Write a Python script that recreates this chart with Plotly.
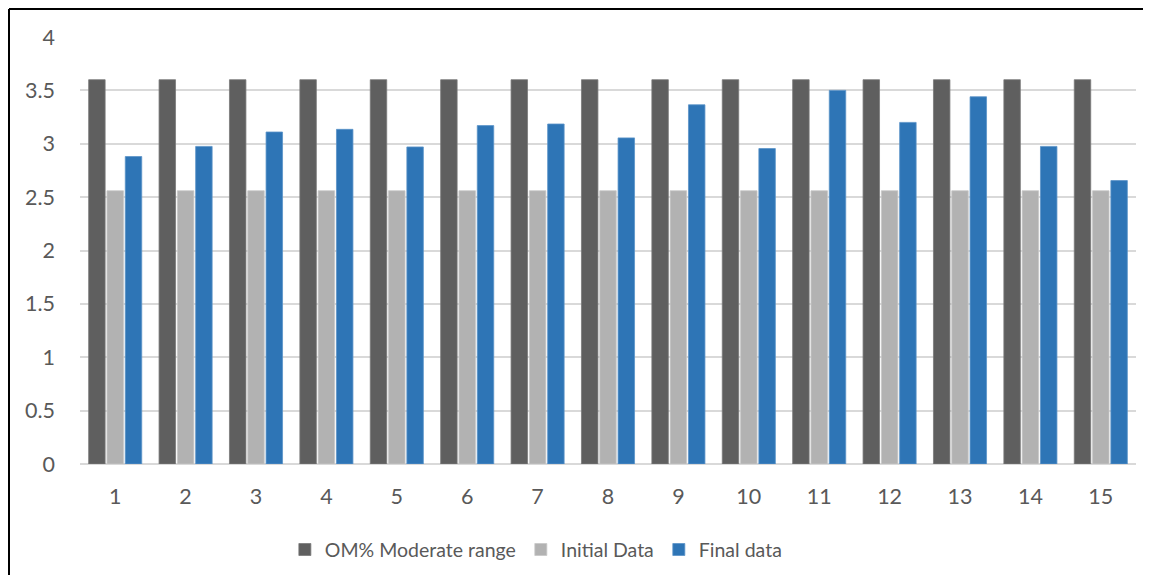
import plotly.graph_objects as go

categories = [str(i) for i in range(1, 16)]
om_moderate = [3.6] * 15
initial_data = [2.56] * 15
final_data = [2.88, 2.975, 3.11, 3.135, 2.97, 3.17, 3.185, 3.055, 3.365, 2.955, 3.5, 3.2, 3.44, 2.975, 2.655]

series_names = ["OM% Moderate range", "Initial Data", "Final data"]
colors = ["#5f5f5f", "#b2b2b2", "#2e75b6"]
edge = ["#7a7a7a", "#c8c8c8", "#5a93c8"]

FONT = "Lato"
fig = go.Figure()
for name, vals, c, e in zip(series_names, [om_moderate, initial_data, final_data], colors, edge):
    fig.add_trace(go.Bar(x=categories, y=vals, name=name,
                         marker=dict(color=c, line=dict(color=e, width=0.8))))

W, H = 1143, 567
L, T, PW, PH = 72, 29, 1056, 427
xl = (1 - L) / PW
xr = (W - L + 20) / PW
yt = 1 + (T - 1) / PH
yb = -(H - T - PH + 20) / PH
fig.update_layout(
    width=W, height=H,
    margin=dict(l=L, r=W - L - PW, t=T, b=H - T - PH, autoexpand=False),
    paper_bgcolor="white", plot_bgcolor="white",
    barmode="group", bargap=0.22, bargroupgap=0.1,
    font=dict(family=FONT, size=20, color="#595959"),
    showlegend=True,
    legend=dict(orientation="h", x=0.194, xanchor="left", y=-0.201, yanchor="middle",
                font=dict(family=FONT, size=19.5, color="#595959"),
                itemclick=False),
    xaxis=dict(type="category", showgrid=False, showline=False, ticks="",
               ticklabelstandoff=17, tickfont=dict(size=21.5, color="#595959")),
    yaxis=dict(range=[0, 4], dtick=0.5, showgrid=True, gridcolor="#d9d9d9", gridwidth=1.5,
               zeroline=True, zerolinecolor="#d9d9d9", zerolinewidth=2,
               showline=False, ticks="", ticklabelstandoff=24,
               tickfont=dict(size=21.5, color="#595959")),
    shapes=[
        dict(type="line", xref="paper", yref="paper", x0=xl, x1=xr, y0=yt, y1=yt,
             line=dict(color="black", width=2), layer="below"),
        dict(type="line", xref="paper", yref="paper", x0=xl, x1=xl, y0=yt, y1=yb,
             line=dict(color="black", width=2), layer="below"),
    ],
)

fig.write_html("out.html")
